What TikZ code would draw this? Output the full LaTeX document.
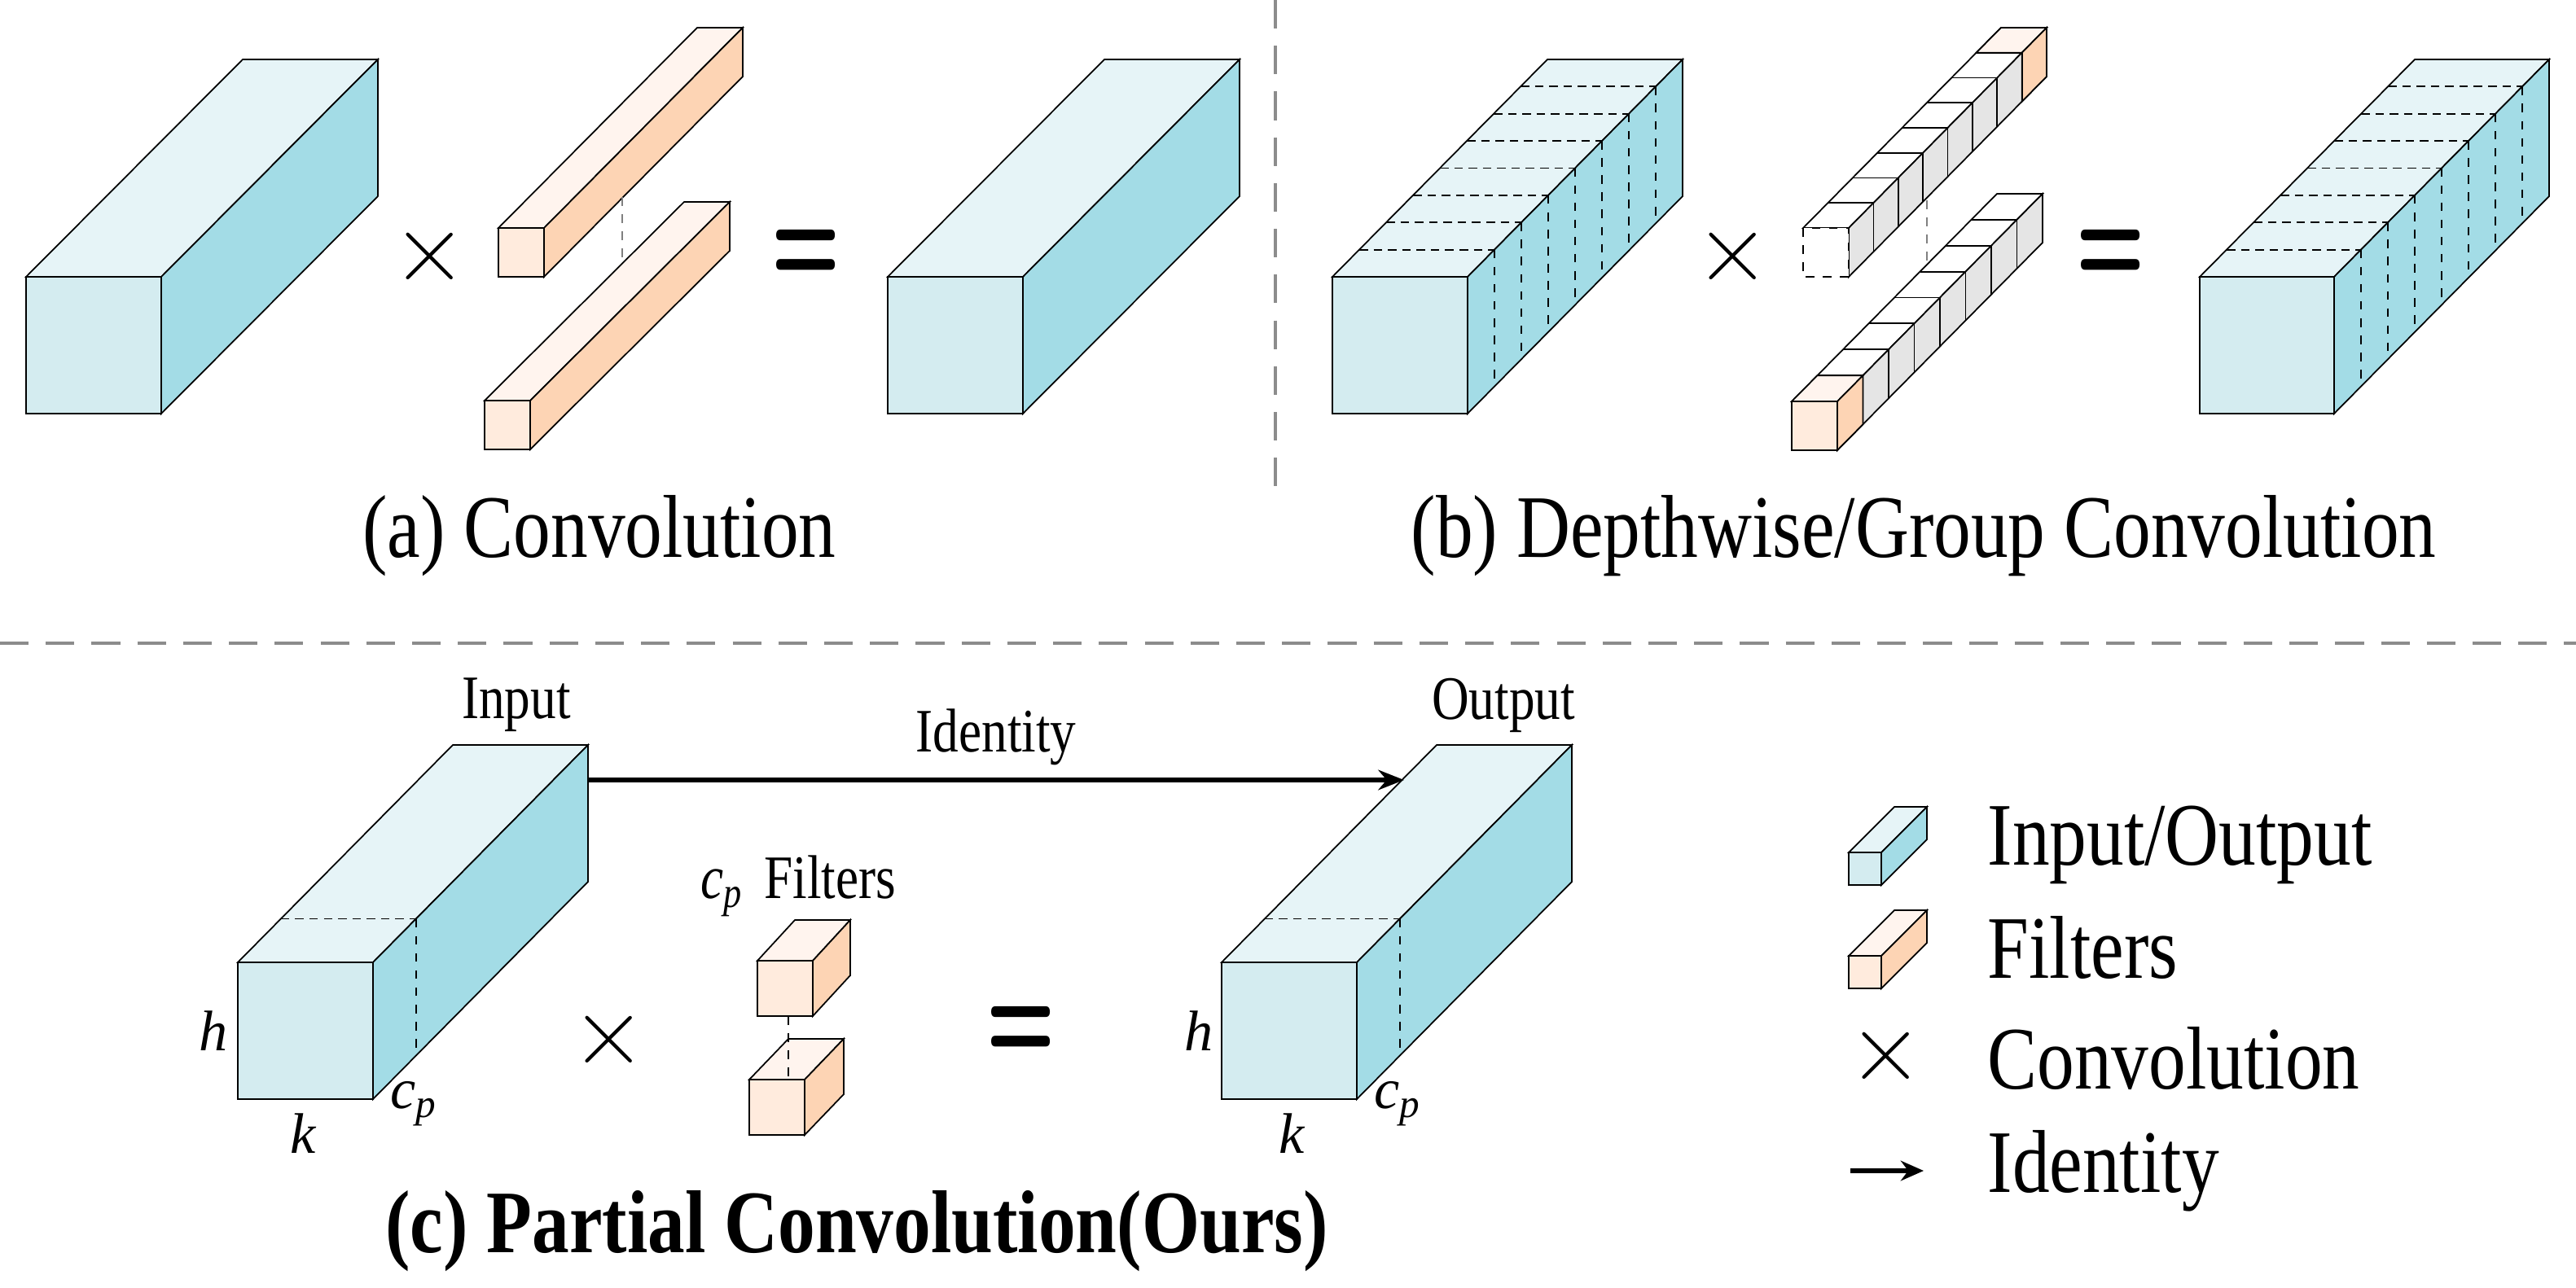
\documentclass[tikz,border=0pt]{standalone}
\usepackage{fontspec}
\setmainfont{Liberation Serif}
\usepackage{xcolor}
\usetikzlibrary{arrows.meta,positioning}

\definecolor{ioFront}{HTML}{D4ECF0}
\definecolor{ioTop}{HTML}{E6F4F7}
\definecolor{ioSide}{HTML}{A3DCE6}
\definecolor{fFront}{HTML}{FFEBDD}
\definecolor{fTop}{HTML}{FFF4EE}
\definecolor{fSide}{HTML}{FDD4B4}
\definecolor{sepGray}{HTML}{8C8C8C}

% top and side faces only: x y w h dx dy top side
\newcommand{\slab}[8]{%
  \filldraw[fill=#7] (#1,#2) -- ++(#5,#6) -- ++(#3,0) -- ++({-1*(#5)},{-1*(#6)}) -- cycle;
  \filldraw[fill=#8] ({#1+#3},#2) -- ++(#5,#6) -- ++(0,#4) -- ++({-1*(#5)},{-1*(#6)}) -- cycle;}
% full box: x y w h dx dy front top side
\newcommand{\cuboid}[9]{%
  \slab{#1}{#2}{#3}{#4}{#5}{#6}{#8}{#9}
  \filldraw[fill=#7] (#1,#2) rectangle ++(#3,#4);}
% dashed slices on top and side: x y w h dx dy n
\newcommand{\slices}[7]{%
  \foreach \i in {1,...,\numexpr#7-1\relax}{
    \draw[densely dashed] ({#1+\i*(#5)/#7},{#2+\i*(#6)/#7}) -- ++(#3,0);
    \draw[dashed] ({#1+#3+\i*(#5)/#7},{#2+\i*(#6)/#7}) -- ++(0,#4);}}
% one cut at fraction f: x y w h dx dy f
\newcommand{\cut}[7]{%
  \draw[densely dashed] ({#1+#7*(#5)},{#2+#7*(#6)}) -- ++(#3,0);
  \draw[dashed] ({#1+#3+#7*(#5)},{#2+#7*(#6)}) -- ++(0,#4);}
% solid dividers of a filter bar: x y w h dx dy n
\newcommand{\dividers}[7]{%
  \foreach \i in {1,...,\numexpr#7-1\relax}{
    \draw ({#1+\i*(#5)/#7},{#2+\i*(#6)/#7}) -- ++(#3,0) -- ++(0,#4);}}
\newcommand{\tall}[1]{\scalebox{1}[1.2]{#1}}

\begin{document}
\begin{tikzpicture}[x=0.02cm, y=-0.02cm, line width=0.5pt,
    caption/.style={font=\fontsize{26}{30}\selectfont},
    label/.style={font=\fontsize{18}{22}\selectfont},
    dim/.style={font=\fontsize{20}{24}\selectfont\itshape},
    op/.style={font=\fontsize{36}{40}\selectfont\sffamily},
    eq/.style={font=\fontsize{28}{32}\selectfont\bfseries\sffamily},
    sep/.style={sepGray, line width=1.2pt, dash pattern=on 10pt off 6pt}]
    \useasboundingbox (0,0) rectangle (1581.5,791);

    % separators
    \coordinate (vTop) at (783,0);
    \coordinate (vBot) at (783,300);
    \coordinate (hL) at (0,395);
    \coordinate (hR) at (1581.5,395);
    \draw[sep] (vTop) -- (vBot);
    \draw[sep] (hL) -- (hR);

    % (a) convolution
    \cuboid{16}{170}{83}{84}{133}{-133.5}{ioFront}{ioTop}{ioSide}
    \node[op] (timesA) at (264,158) {×};
    \cuboid{306}{140}{28}{30}{122}{-123}{fFront}{fTop}{fSide}
    \cuboid{297.5}{246}{28}{30}{122.5}{-122}{fFront}{fTop}{fSide}
    \coordinate (dA1) at (382,121);
    \coordinate (dA2) at (382,160);
    \draw[dashed, gray] (dA1) -- (dA2);
    \node[eq] (eqA) at (495,157) {\scalebox{1}[1.6]{=}};
    \cuboid{545}{170}{83}{84}{133}{-133.5}{ioFront}{ioTop}{ioSide}
    \node[caption] (capA) at (368,329) {\tall{(a) Convolution}};

    % (b) depthwise / group convolution
    \cuboid{818}{170}{83}{84}{132}{-133.5}{ioFront}{ioTop}{ioSide}
    \slices{818}{170}{83}{84}{132}{-133.5}{8}
    \node[op] (timesB) at (1064,158) {×};
    \slab{1107}{140}{28}{30}{121.5}{-123}{white}{black!10}
    \slab{1213.3125}{32.375}{28}{30}{15.1875}{-15.375}{fTop}{fSide}
    \dividers{1107}{140}{28}{30}{121.5}{-123}{8}
    \filldraw[fill=white, dashed] (1107,140) rectangle ++(28,30);
    \slab{1100}{246.5}{28}{30}{126}{-127.5}{white}{black!10}
    \dividers{1100}{246.5}{28}{30}{126}{-127.5}{8}
    \cuboid{1100}{246.5}{28}{30}{15.75}{-15.9375}{fFront}{fTop}{fSide}
    \coordinate (dB1) at (1183,123);
    \coordinate (dB2) at (1183,160);
    \draw[dashed, gray] (dB1) -- (dB2);
    \node[eq] (eqB) at (1296,157) {\scalebox{1}[1.6]{=}};
    \cuboid{1350.5}{170}{82.5}{84}{132}{-133.5}{ioFront}{ioTop}{ioSide}
    \slices{1350.5}{170}{82.5}{84}{132}{-133.5}{8}
    \node[caption] (capB) at (1181,329) {\tall{(b) Depthwise/Group Convolution}};

    % (c) partial convolution
    \cuboid{146}{591}{83}{84}{132}{-133.5}{ioFront}{ioTop}{ioSide}
    \cut{146}{591}{83}{84}{132}{-133.5}{0.2}
    \node[label] (inLbl) at (317,433) {\tall{Input}};
    \node[dim] (hIn) at (131,633) {h};
    \node[dim] (kIn) at (186,696) {k};
    \node[dim] (cIn) at (254,678) {c\textsubscript{p}};
    \node[op] (timesC) at (374,639) {×};
    \cuboid{465}{590}{34}{34}{23}{-25}{fFront}{fTop}{fSide}
    \cuboid{460}{663}{34}{34}{24}{-25}{fFront}{fTop}{fSide}
    \coordinate (dC1) at (484,624);
    \coordinate (dC2) at (484,663);
    \draw[dashed] (dC1) -- (dC2);
    \node[label] (filtLbl) at (490,544) {\tall{\textit{c}\textsubscript{\textit{p}}\, Filters}};
    \node[eq] (eqC) at (627,634) {\scalebox{1}[1.6]{=}};
    \cuboid{750}{591}{83}{84}{132}{-133.5}{ioFront}{ioTop}{ioSide}
    \cut{750}{591}{83}{84}{132}{-133.5}{0.2}
    \node[label] (outLbl) at (923,433) {\tall{Output}};
    \node[dim] (hOut) at (736,633) {h};
    \node[dim] (kOut) at (793,696) {k};
    \node[dim] (cOut) at (858,678) {c\textsubscript{p}};
    \coordinate (idS) at (361,479);
    \coordinate (idE) at (862,479);
    \draw[-{Stealth[length=9pt,width=7pt]}, line width=1.6pt] (idS) -- node[label, above=1pt] {\tall{Identity}} (idE);
    \node[caption] (capC) at (526,756) {\tall{\textbf{(c) Partial Convolution(Ours)}}};

    % legend
    \cuboid{1135}{523.5}{20}{20}{28}{-28}{ioFront}{ioTop}{ioSide}
    \node[caption, anchor=west] (lgIO) at (1214,519) {\tall{Input/Output}};
    \cuboid{1135}{587}{20}{20}{28}{-28}{fFront}{fTop}{fSide}
    \node[caption, anchor=west] (lgF) at (1214,582) {\tall{Filters}};
    \node[op] (lgX) at (1158,649) {×};
    \node[caption, anchor=west] (lgC) at (1214,650) {\tall{Convolution}};
    \coordinate (lgA1) at (1136,719);
    \coordinate (lgA2) at (1181,719);
    \draw[-{Stealth[length=8pt,width=7pt]}, line width=1.6pt] (lgA1) -- (lgA2);
    \node[caption, anchor=west] (lgI) at (1214,719) {\tall{Identity}};
\end{tikzpicture}
\end{document}
